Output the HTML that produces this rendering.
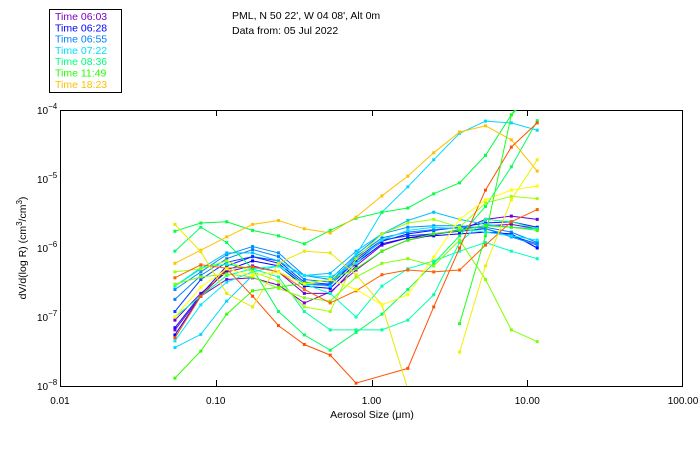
<!DOCTYPE html>
<html><head><meta charset="utf-8"><style>
body{margin:0;background:#fff;}
svg{display:block;font-family:"Liberation Sans",sans-serif;}
</style></head><body>
<svg id="chart" width="700" height="450">
<defs><clipPath id="plotclip"><rect x="60" y="110" width="623" height="276"/></clipPath></defs>
<g>
<rect x="49.5" y="9.5" width="72" height="83" fill="#fff" stroke="#000"/>
<g id="legendItems" font-size="10.5"></g>
</g>
<text x="232" y="19" font-size="10.5">PML, N 50 22', W 04 08', Alt 0m</text>
<text x="232" y="34" font-size="10.5">Data from: 05 Jul 2022</text>
<rect x="60.5" y="110.5" width="622" height="276" fill="none" stroke="#000"/>
<g id="axes" font-size="10"></g>
<g id="series" clip-path="url(#plotclip)"></g>
<text x="372" y="418" font-size="10.5" text-anchor="middle">Aerosol Size (μm)</text>
<text transform="translate(26,248) rotate(-90)" font-size="10.5" text-anchor="middle">dV/d(log R) (cm<tspan dy="-4" font-size="8">3</tspan><tspan dy="4">/cm</tspan><tspan dy="-4" font-size="8">3</tspan><tspan dy="4">)</tspan></text>
</svg>
<script>
const sizes = [0.0547,0.0802,0.1176,0.1724,0.2527,0.3705,0.5432,0.7963,1.167,1.711,2.509,3.678,5.392,7.905,11.59];
const xTicks = [0.01,0.1,1,10,100];
const xTickLabels = ["0.01","0.10","1.00","10.00","100.00"];
const yTickExps = [-4,-5,-6,-7,-8];
const legendTimes = ["Time 06:03","Time 06:28","Time 06:55","Time 07:22","Time 08:36","Time 11:49","Time 18:23"];
const legendColors = ["#7f00c8","#0000ff","#0080ff","#00e0ff","#00ff80","#22ff00","#ffc000"];
const s1 = [6.5e-8,2.0e-7,3.5e-7,3.7e-7,2.9e-7,1.6e-7,2.3e-7,4.8e-7,9.0e-7,1.3e-6,1.55e-6,1.85e-6,2.1e-6,2.2e-6,1.9e-6];
const s2 = [9e-8,2.2e-7,4.5e-7,5.5e-7,4.5e-7,2.2e-7,2.2e-7,5.5e-7,1.1e-6,1.4e-6,1.6e-6,1.8e-6,2.6e-6,2.9e-6,2.6e-6];
const s3 = [5.5e-8,2.0e-7,4.8e-7,6.5e-7,5.5e-7,2.8e-7,2.6e-7,6.0e-7,1.15e-6,1.4e-6,1.5e-6,1.6e-6,1.7e-6,1.6e-6,1.0e-6];
const s4 = [7e-8,2.1e-7,5.5e-7,7.5e-7,6.0e-7,3.0e-7,2.9e-7,6.5e-7,1.25e-6,1.6e-6,1.8e-6,2.0e-6,2.3e-6,2.4e-6,2.0e-6];
const s5 = [1.2e-7,3.5e-7,6.2e-7,7.5e-7,6.5e-7,3.2e-7,3.0e-7,7e-7,1.3e-6,1.5e-6,1.6e-6,1.75e-6,1.9e-6,1.5e-6,1.15e-6];
const s6 = [1.8e-7,4.0e-7,7.0e-7,9.5e-7,7.5e-7,3.5e-7,3.2e-7,7.5e-7,1.4e-6,1.7e-6,1.85e-6,2.0e-6,2.0e-6,1.7e-6,1.2e-6];
const s7 = [2.5e-7,4.5e-7,8.0e-7,1.05e-6,8.5e-7,4e-7,3.5e-7,8e-7,1.6e-6,2.0e-6,2.1e-6,2.1e-6,1.9e-6,1.45e-6,1.1e-6];
const s8 = [2.8e-7,5.0e-7,8.5e-7,8.5e-7,6.5e-7,4.0e-7,4.3e-7,9e-7,1.6e-6,2.5e-6,3.3e-6,2.6e-6,2.2e-6,2.0e-6,1.9e-6];
const s9 = [3.6e-8,5.6e-8,1.7e-7,4.0e-7,4.5e-7,3.0e-7,2.8e-7,7.9e-7,3.3e-6,7.7e-6,1.9e-5,4.6e-5,6.9e-5,6.5e-5,5.1e-5];
const s10 = [4.5e-8,1.5e-7,3.2e-7,4.5e-7,5.5e-7,4.0e-7,3.8e-7,6.0e-7,1.3e-6,1.8e-6,2.0e-6,1.9e-6,1.7e-6,1.5e-6,1.3e-6];
const s11 = [2.8e-7,5.2e-7,5.8e-7,5.0e-7,5.5e-7,3.0e-7,2.2e-7,1.0e-7,2.8e-7,5.0e-7,6.5e-7,9e-7,1.2e-6,9e-7,7e-7];
const s12 = [1.0e-7,2.0e-7,4.0e-7,5.0e-7,3.8e-7,1.2e-7,6.5e-8,6.5e-8,6.5e-8,9.0e-8,2.1e-7,1.2e-6,2.6e-6,2.4e-6,1.9e-6];
const s13 = [1.75e-6,2.3e-6,2.4e-6,1.8e-6,1.5e-6,1.15e-6,1.8e-6,2.7e-6,3.3e-6,3.8e-6,6.1e-6,8.8e-6,2.2e-5,8.5e-5,2.0e-4];
const s14 = [1.3e-8,3.2e-8,1.1e-7,2.4e-7,2.7e-7,3.1e-7,3.5e-7,5.0e-7,9e-7,1.3e-6,1.6e-6,1.8e-6,2.1e-6,2.0e-6,1.8e-6];
const s15 = [9e-7,2.0e-6,1.2e-6,5e-7,1.2e-7,5.5e-8,3.3e-8,6.0e-8,1.1e-7,2.5e-7,6.0e-7,1.5e-6,4.0e-6,1.5e-5,7e-5];
const s16 = [3.0e-7,3.8e-7,4.2e-7,3.8e-7,2.6e-7,1.9e-7,1.7e-7,3.8e-7,6.0e-7,7.0e-7,5.5e-7,1.3e-6,3.5e-7,6.5e-8,4.4e-8];
const s17 = [4.5e-7,5.0e-7,6.5e-7,4.5e-7,3.3e-7,1.4e-7,1.2e-7,7e-7,1.6e-6,2.3e-6,2.6e-6,2.0e-6,4.5e-6,5.6e-6,5.2e-6];
const s18 = [6.0e-7,9.3e-7,1.45e-6,2.2e-6,2.5e-6,1.9e-6,1.65e-6,2.8e-6,5.7e-6,1.1e-5,2.4e-5,4.8e-5,5.9e-5,3.7e-5,1.3e-5];
const s19 = [3.7e-7,5.7e-7,5.1e-7,5.3e-7,4.5e-7,2.5e-7,1.6e-7,2.4e-7,4.1e-7,4.8e-7,4.5e-7,4.8e-7,1.1e-6,2.4e-6,3.6e-6];
const s20 = [5e-8,2e-7,5e-7,2e-7,7.5e-8,4e-8,2.8e-8,1.1e-8,null,1.8e-8,1.4e-7,1.0e-6,6.9e-6,2.9e-5,6.5e-5];
const s21 = [2.2e-6,8.8e-7,2.2e-7,1.4e-7,6.0e-7,9.0e-7,8.5e-7,4.1e-7,1.5e-7,9e-9,null,null,null,null,null];
const s22 = [null,null,null,null,null,null,null,null,null,null,null,3.1e-8,5.5e-7,5e-6,1.9e-5];
const s23 = [1.0e-7,2.7e-7,5.0e-7,4.0e-7,4.5e-7,3.0e-7,3.5e-7,2.5e-7,1.5e-7,2.1e-7,7.4e-7,2.6e-6,5e-6,6.9e-6,7.9e-6];
const s24 = [null,null,null,null,null,null,null,null,null,null,null,8e-8,1.5e-6,8.5e-5,3e-4];
const seriesList = [s1,s2,s3,s4,s5,s6,s7,s8,s9,s10,s11,s12,s13,s14,s15,s16,s17,s18,s19,s20,s21,s22,s23,s24];
const seriesColors = ["#7f00c8","#6a00d8","#0000ff","#1010ff","#0040ff","#0080ff","#0090ff","#00c0ff","#00d8ff","#00e8ff","#00ffc0","#00ffa0","#00ff40","#30ff00","#00ff60","#80ff00","#a0ff00","#ffc000","#ff6000","#ff5000","#e8e800","#f0f000","#ffff00","#20ff20"];

const NS = "http://www.w3.org/2000/svg";
function xs(v){ return 60 + (Math.log10(v) + 2) * 155.75; }
function ys(v){ return 110 + (-4 - Math.log10(v)) * 69; }
function mk(tag, attrs, parent){ const e = document.createElementNS(NS, tag); for (const k in attrs) e.setAttribute(k, attrs[k]); parent.appendChild(e); return e; }

const lg = document.getElementById('legendItems');
legendTimes.forEach((t, i) => {
  const el = mk('text', {x: 55, y: 20 + i * 11.3, fill: legendColors[i]}, lg);
  el.textContent = t;
  
  
});

const ax = document.getElementById('axes');
xTicks.forEach((v, i) => {
  const x = Math.round(xs(v)) + 0.5;
  if (i > 0 && i < xTicks.length - 1) {
    const t1 = mk('line', {x1: x, x2: x, y1: 386, y2: 380, stroke: '#000'}, ax);
    
    
    const t2 = mk('line', {x1: x, x2: x, y1: 110, y2: 116, stroke: '#000'}, ax);
    
    
  }
  const lb = mk('text', {x: xs(v), y: 404, 'text-anchor': 'middle'}, ax);
  lb.textContent = xTickLabels[i];
  
  
});
yTickExps.forEach(e => {
  const y = ys(Math.pow(10, e));
  const lb = mk('text', {x: 37, y: y + 4, 'text-anchor': 'start'}, ax);
  lb.textContent = '10';
  const sp = mk('tspan', {dy: -5, 'font-size': 8}, lb);
  sp.textContent = '−' + Math.abs(e);
  
  
});

const sg = document.getElementById('series');
seriesList.forEach((vals, si) => {
  const g = mk('g', {}, sg);
  
  
  let d = '';
  vals.forEach((v, i) => {
    if (v === null) return;
    d += (d ? 'L' : 'M') + xs(sizes[i]).toFixed(1) + ',' + ys(v).toFixed(1);
  });
  mk('path', {d: d, fill: 'none', stroke: seriesColors[si], 'stroke-width': 1}, g);
  vals.forEach((v, i) => {
    if (v === null) return;
    const r = mk('rect', {x: xs(sizes[i]) - 1.5, y: ys(v) - 1.5, width: 3, height: 3, fill: seriesColors[si]}, g);
    
    
  });
});
</script>
</body></html>
